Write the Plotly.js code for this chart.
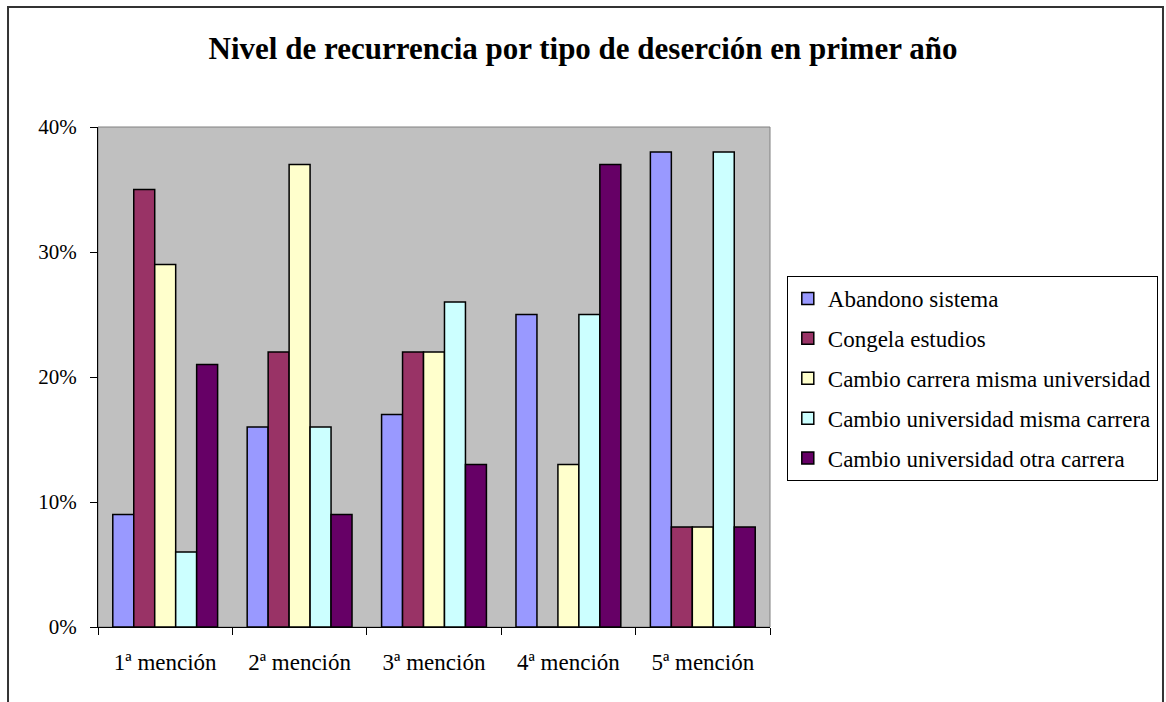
<!DOCTYPE html>
<html>
<head>
<meta charset="utf-8">
<script src="https://cdn.plot.ly/plotly-3.0.1.min.js"></script>
<style>html,body{margin:0;padding:0;background:#fff;}#chart{width:1166px;height:702px;}</style>
</head>
<body>
<div id="chart"></div>
<script>
const categories = ["1ª mención", "2ª mención", "3ª mención", "4ª mención", "5ª mención"];
const seriesNames = ["Abandono sistema", "Congela estudios", "Cambio carrera misma universidad", "Cambio universidad misma carrera", "Cambio universidad otra carrera"];
const abandonoSistema = [0.09, 0.16, 0.17, 0.25, 0.38];
const congelaEstudios = [0.35, 0.22, 0.22, 0.00, 0.08];
const cambioCarreraMismaUniv = [0.29, 0.37, 0.22, 0.13, 0.08];
const cambioUnivMismaCarrera = [0.06, 0.16, 0.26, 0.25, 0.38];
const cambioUnivOtraCarrera = [0.21, 0.09, 0.13, 0.37, 0.08];
const seriesColors = ["#9999FF", "#993366", "#FFFFCC", "#CCFFFF", "#660066"];
const seriesValues = [abandonoSistema, congelaEstudios, cambioCarreraMismaUniv, cambioUnivMismaCarrera, cambioUnivOtraCarrera];

const FONT = "Liberation Serif, 'Times New Roman', Times, serif";

const traces = seriesValues.map((vals, i) => ({
  type: "bar",
  name: seriesNames[i],
  x: categories,
  y: vals,
  legendgroup: "g" + i,
  marker: { color: seriesColors[i], line: { color: "#000", width: 1.5 } },
  hoverinfo: "x+y+name"
}));

const layout = {
  width: 1166, height: 702,
  margin: { l: 98, r: 396, t: 127, b: 75, autoexpand: false },
  paper_bgcolor: "#ffffff",
  plot_bgcolor: "#C0C0C0",
  font: { family: FONT, size: 18, color: "#000" },
  title: {
    text: "<b>Nivel de recurrencia por tipo de deserción en primer año</b>",
    font: { family: FONT, size: 31, color: "#000" },
    x: 0.5, xref: "container", xanchor: "center",
    y: 0.9316, yref: "container", yanchor: "middle"
  },
  barmode: "group",
  bargap: 0.22,
  bargroupgap: 0,
  showlegend: true,
  legend: {
    x: 1.025, xanchor: "left", y: 0.702, yanchor: "top",
    bgcolor: "#fff", bordercolor: "#000", borderwidth: 1,
    font: { family: FONT, size: 23, color: "#000" },
    tracegroupgap: 7,
    traceorder: "grouped"
  },
  xaxis: {
    type: "category",
    tickson: "boundaries",
    ticks: "outside", ticklen: 7, tickwidth: 1, tickcolor: "#000",
    showline: true, linecolor: "#000", linewidth: 1,
    showgrid: false, zeroline: false,
    tickfont: { family: FONT, size: 23, color: "#000" },
    ticklabelstandoff: 14,
    automargin: false,
    fixedrange: true
  },
  yaxis: {
    range: [0, 0.4],
    dtick: 0.1, tick0: 0,
    tickformat: ".0%",
    ticks: "outside", ticklen: 7, tickwidth: 1, tickcolor: "#000",
    showline: true, linecolor: "#000", linewidth: 1,
    showgrid: false, zeroline: false,
    tickfont: { family: FONT, size: 21, color: "#000" },
    ticklabelstandoff: 9,
    automargin: false,
    fixedrange: true
  },
  shapes: [
    { type: "rect", xref: "paper", yref: "paper", x0: 0, x1: 1, y0: 0, y1: 1,
      line: { color: "#808080", width: 1 }, layer: "below" },
    { type: "path", xref: "paper", yref: "paper",
      path: "M -0.1339,-0.3 L -0.1339,1.24 L 1.5848,1.24 L 1.5848,-0.3",
      line: { color: "#333", width: 2 }, layer: "above" }
  ]
};

Plotly.newPlot("chart", traces, layout, { displayModeBar: false });
</script>
</body>
</html>
